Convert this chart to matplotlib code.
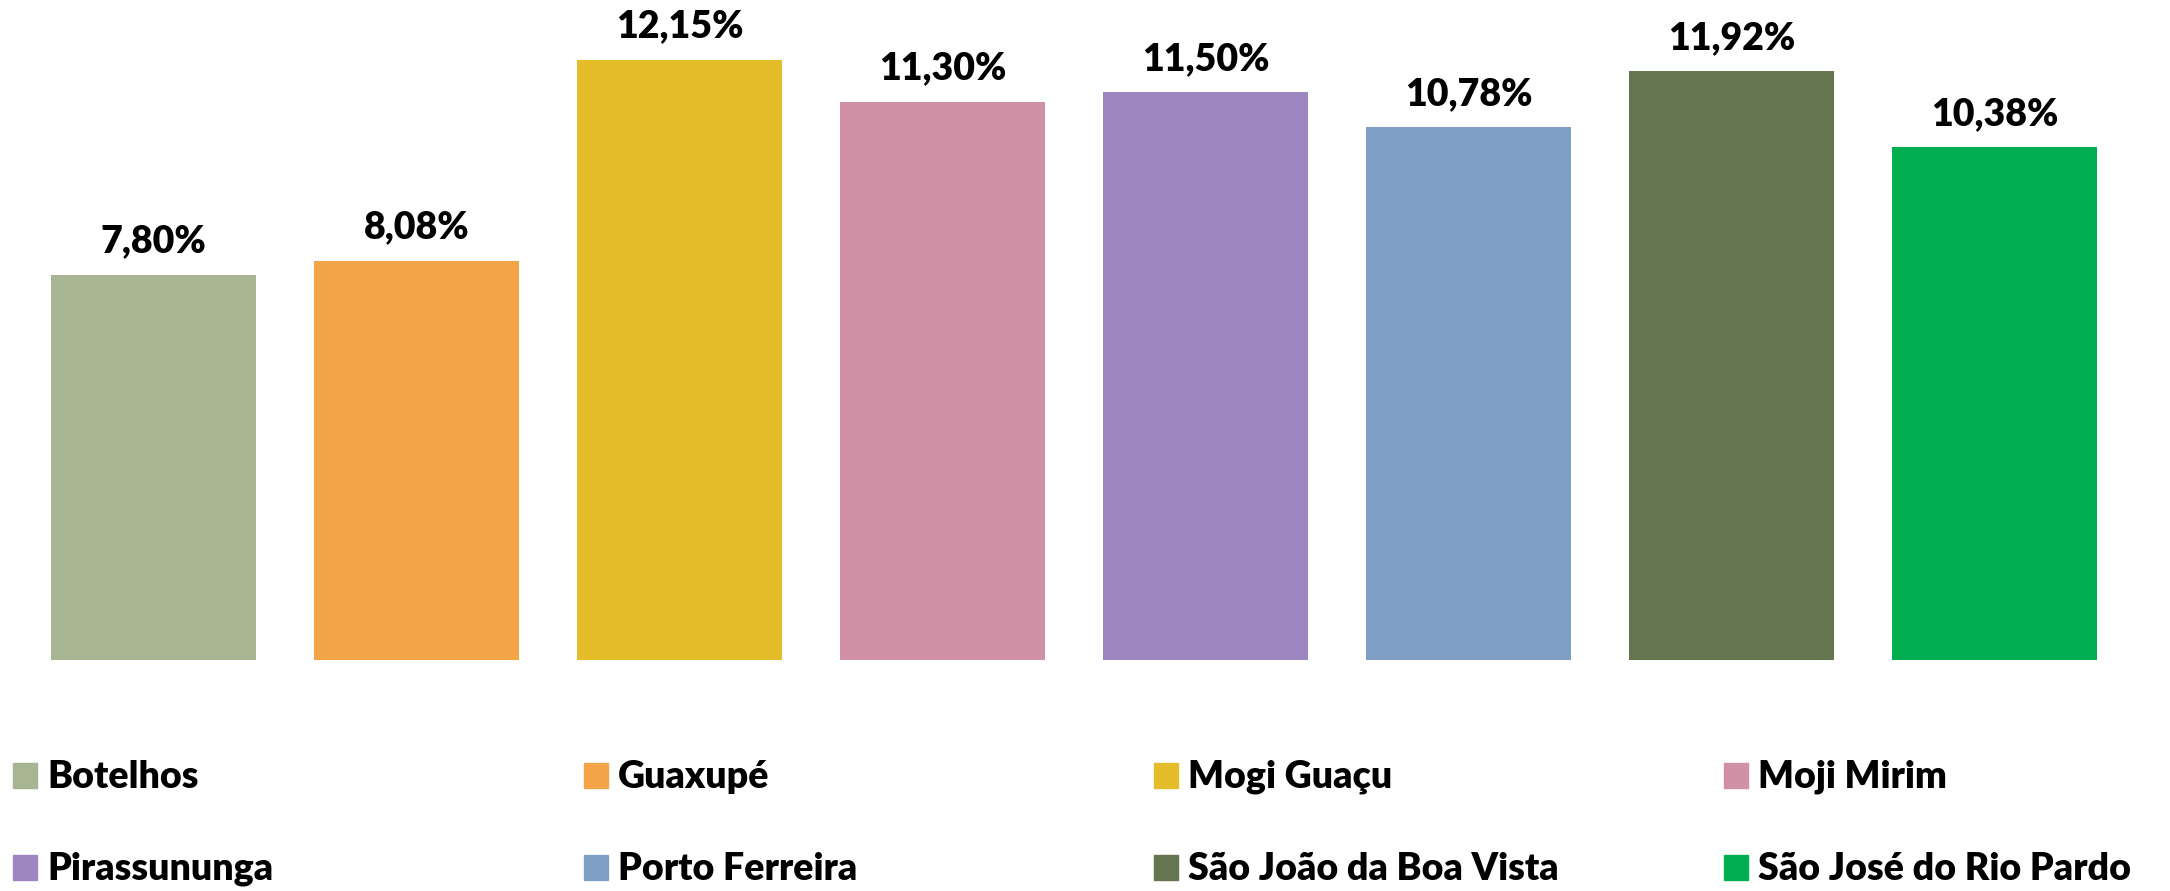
import matplotlib.pyplot as plt
from matplotlib.patches import Rectangle

cidades = ['Botelhos', 'Guaxupé', 'Mogi Guaçu', 'Moji Mirim',
           'Pirassununga', 'Porto Ferreira', 'São João da Boa Vista',
           'São José do Rio Pardo']
valores = [7.80, 8.08, 12.15, 11.30, 11.50, 10.78, 11.92, 10.38]
cores = ['#A7B592', '#F2A446', '#E5BD2A', '#D091A6',
         '#9E86C1', '#7F9FC4', '#65754F', '#00AE50']

plt.rcParams['font.family'] = ['Lato', 'DejaVu Sans']
W, H = 2170, 891

fig = plt.figure(figsize=(W / 100, H / 100), dpi=100)
ax = fig.add_axes([22 / W, 1 - 660 / H, (2126 - 22) / W, 660 / H])

x = range(len(cidades))
ax.bar(x, valores, width=0.78, color=cores)
for i, v in zip(x, valores):
    ax.annotate(f'{v:.2f}%'.replace('.', ','), (i, v), xytext=(0, 16),
                textcoords='offset points', ha='center', va='baseline',
                fontsize=27, fontweight='heavy')

ax.set_xlim(-0.5, len(cidades) - 0.5)
ax.set_ylim(0, 13.36)
ax.axis('off')

# legenda manual: 2 linhas x 4 colunas
col_x = [13, 584, 1154, 1724]
row_y = [788, 880]
for k, (nome, cor) in enumerate(zip(cidades, cores)):
    cx = col_x[k % 4]
    by = row_y[k // 4]
    fig.patches.append(Rectangle((cx / W, 1 - by / H), 24 / W, 25 / H,
                                 transform=fig.transFigure, color=cor))
    fig.text((cx + 34) / W, 1 - by / H, nome, ha='left', va='baseline',
             fontsize=27, fontweight='heavy')

fig.savefig('out.png', dpi=100)
